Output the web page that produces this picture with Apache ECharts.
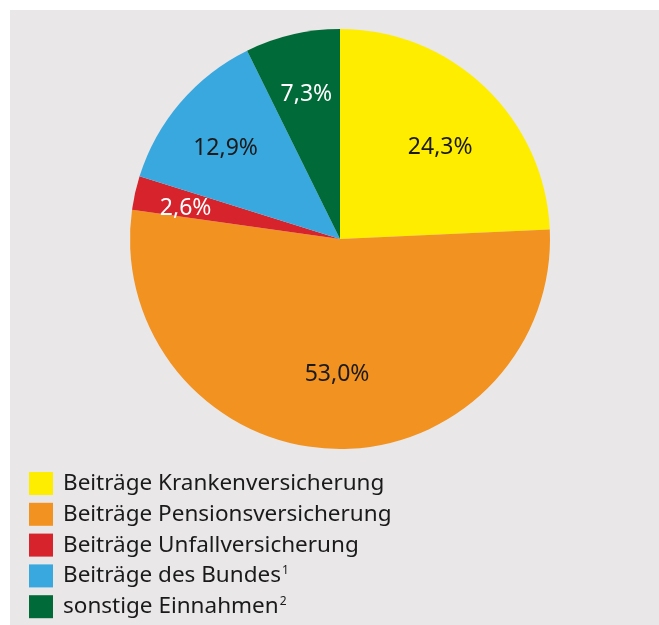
<!DOCTYPE html>
<html>
<head>
<meta charset="utf-8">
<script src="https://cdn.jsdelivr.net/npm/echarts@6/dist/echarts.min.js"></script>
<style>
  html, body { margin: 0; padding: 0; background: #ffffff; }
  #chart { width: 659px; height: 625px; }
</style>
</head>
<body>
<div id="chart"></div>
<script>
// Einnahmen – Anteile in Prozent
const categories = [
    'Beiträge Krankenversicherung',
    'Beiträge Pensionsversicherung',
    'Beiträge Unfallversicherung',
    'Beiträge des Bundes',
    'sonstige Einnahmen'
];
const shares = [24.3, 53.0, 2.6, 12.9, 7.3];
const footnotes = ['', '', '', '1', '2'];
const colors = ['#ffed00', '#f29220', '#d7232b', '#39a8df', '#006a38'];
const labelColors = ['#1a1a1a', '#1a1a1a', '#ffffff', '#1a1a1a', '#ffffff'];
// kleine Verschiebung der Beschriftung je Segment
const labelOffsets = [[-2, 15], [4, -12], [-10, 2], [-2, 6], [0, 0]];

const FONT = '"Source Sans Pro", "Noto Sans", sans-serif';

const pieData = categories.map((name, i) => ({
    name: name,
    value: shares[i],
    itemStyle: { color: colors[i] }
}));

// transparente Hilfsserie nur für die Beschriftung (Radius der Labels)
const labelData = categories.map((name, i) => ({
    name: name,
    value: shares[i],
    itemStyle: { color: 'transparent' },
    label: { color: labelColors[i], offset: labelOffsets[i] }
}));

const chart = echarts.init(document.getElementById('chart'), null, { renderer: 'canvas' });

const option = {
    backgroundColor: '#ffffff',
    animation: false,
    graphic: [{
        type: 'rect',
        z: -10,
        shape: { x: 10, y: 10, width: 649, height: 615 },
        style: { fill: '#e9e7e7' }
    }],
    legend: {
        data: categories,
        orient: 'vertical',
        left: 29,
        top: 472,
        height: 200,
        padding: 0,
        icon: 'rect',
        itemWidth: 24,
        itemHeight: 23,
        itemGap: 7.8,
        selectedMode: false,
        formatter: name => {
            const i = categories.indexOf(name);
            return footnotes[i] ? name + '{sup|' + footnotes[i] + '}' : name;
        },
        textStyle: {
            fontFamily: FONT,
            fontSize: 22.5,
            color: '#1a1a1a',
            padding: [0, 0, 0, 5],
            rich: {
                sup: {
                    fontFamily: FONT,
                    fontSize: 12,
                    color: '#1a1a1a',
                    verticalAlign: 'top',
                    padding: [0, 0, 8, 1]
                }
            }
        }
    },
    series: [
        {
            type: 'pie',
            center: [340, 239],
            radius: [0, 210],
            startAngle: 90,
            clockwise: true,
            silent: true,
            label: { show: false },
            labelLine: { show: false },
            itemStyle: { borderWidth: 0 },
            data: pieData
        },
        {
            type: 'pie',
            center: [340, 239],
            radius: [80, 210],
            startAngle: 90,
            clockwise: true,
            silent: true,
            legendHoverLink: false,
            label: {
                show: true,
                position: 'inside',
                fontFamily: FONT,
                fontSize: 23,
                formatter: p => p.value.toFixed(1).replace('.', ',') + '%'
            },
            labelLine: { show: false },
            itemStyle: { borderWidth: 0 },
            data: labelData
        }
    ]
};

option && chart.setOption(option, true);
</script>
</body>
</html>
